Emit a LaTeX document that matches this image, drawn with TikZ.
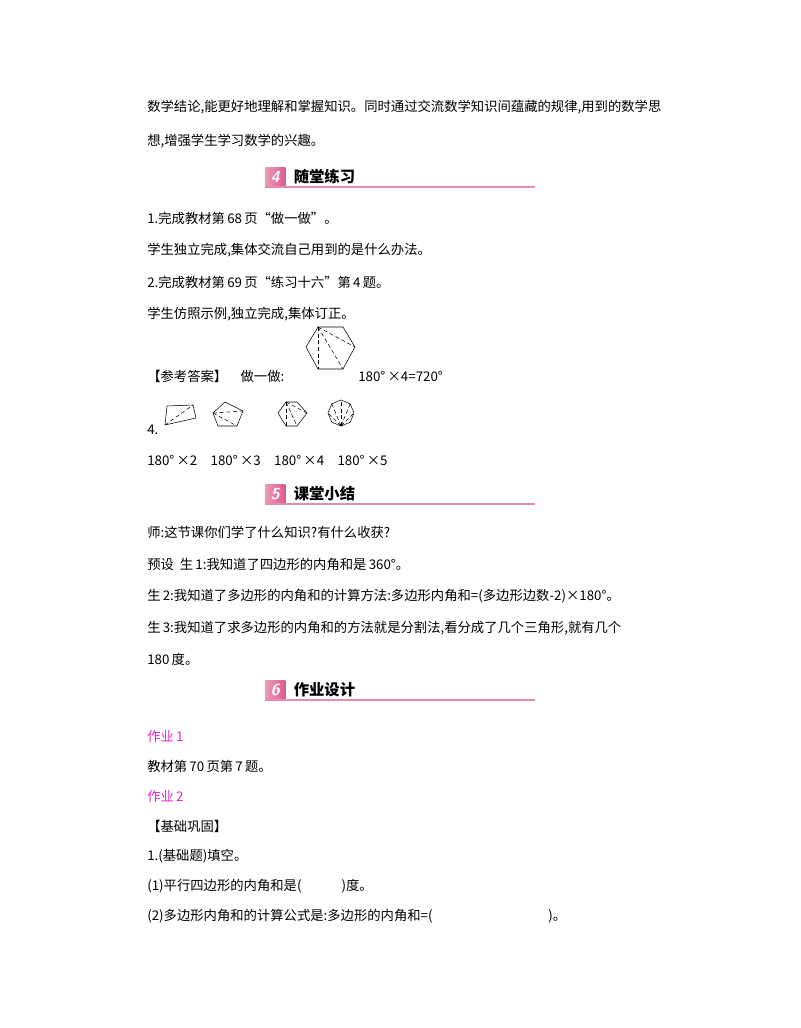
\documentclass[tikz,border=0pt]{standalone}
\usepackage{fontspec}
\usetikzlibrary{positioning,calc}
\newfontfamily\cjk{Noto Sans CJK SC}
\definecolor{secpink}{RGB}{222,90,140}
\definecolor{hwmag}{RGB}{230,40,200}
\tikzset{
  txt/.style={anchor=west, inner sep=0pt, font=\cjk\fontsize{10}{12}\selectfont},
  hw/.style={txt, text=hwmag},
  numbox/.style={minimum width=15pt, minimum height=15pt, inner sep=0pt, anchor=west,
    left color=secpink!60, right color=secpink, font=\sffamily\bfseries\itshape\large, text=white},
  headtxt/.style={anchor=west, inner sep=0pt, font=\cjk\bfseries\fontsize{11.5}{13}\selectfont},
  diag/.style={densely dashed, thin},
  poly/.style={thin}
}
\newcommand{\sectionhead}[3]{%
  \node[numbox] (n#1) at (265,#2) {#1};
  \node[headtxt, right=6pt of n#1] (h#1) {#3};
  \draw[secpink!70, line width=0.8pt] (265,#2+10) -- (535,#2+10);
}
\begin{document}
\begin{tikzpicture}[x=0.75pt, y=-0.75pt]
\useasboundingbox (0,0) rectangle (800,1028);

\node[txt] (l1) at (147,107) {数学结论,能更好地理解和掌握知识。同时通过交流数学知识间蕴藏的规律,用到的数学思};
\node[txt] (l2) at (147,141) {想,增强学生学习数学的兴趣。};

% section 4
\sectionhead{4}{177}{随堂练习}
\node[txt] (p1) at (147,218) {1.完成教材第\,68\,页“做一做”。};
\node[txt] (p2) at (147,250) {学生独立完成,集体交流自己用到的是什么办法。};
\node[txt] (p3) at (147,282) {2.完成教材第\,69\,页“练习十六”第\,4\,题。};
\node[txt] (p4) at (147,314) {学生仿照示例,独立完成,集体订正。};
\node[txt] (ans) at (147,376) {【参考答案】\quad 做一做:};
\node[txt] (ans2) at (358,376) {180°\,×4=720°};

% big hexagon
\draw[poly] (318,327) -- (343,327) -- (355,347) -- (343,369) -- (318,369) -- (306,347) -- cycle;
\foreach \p in {(355,347),(343,369),(318,369)}
  \draw[diag] (318,327) -- \p;

\node[txt] (q4) at (147,430) {4.};
% small figures
\draw[poly] (167,406) -- (193,405) -- (196,418) -- (165,425) -- cycle;
\draw[diag] (165,425) -- (193,405);
\draw[poly] (213,413) -- (225,402) -- (243,411) -- (237,426) -- (218,426) -- cycle;
\foreach \p in {(243,411),(237,426)}
  \draw[diag] (213,413) -- \p;
\draw[poly] (286,402) -- (297,402) -- (307,413) -- (297,426) -- (286,426) -- (278,413) -- cycle;
\foreach \p in {(307,413),(297,426),(286,426)}
  \draw[diag] (286,402) -- \p;
\draw[poly] (341,413) +(90:13) \foreach \a in {135,180,...,405} { -- +(\a:13) } -- cycle;
\foreach \a in {180,225,270,315,360}
  \draw[diag] ($(341,413)+(90:13)$) -- ($(341,413)+(\a:13)$);
\node[txt] (r4) at (147,460) {180°\,×2\quad 180°\,×3\quad 180°\,×4\quad 180°\,×5};

% section 5
\sectionhead{5}{494}{课堂小结}
\node[txt] (s1) at (147,532) {师:这节课你们学了什么知识?有什么收获?};
\node[txt] (s2) at (147,564) {预设\ \ 生\,1:我知道了四边形的内角和是\,360°。};
\node[txt] (s3) at (147,596) {生\,2:我知道了多边形的内角和的计算方法:多边形内角和=(多边形边数-2)×180°。};
\node[txt] (s4) at (147,628) {生\,3:我知道了求多边形的内角和的方法就是分割法,看分成了几个三角形,就有几个};
\node[txt] (s5) at (147,659) {180\,度。};

% section 6
\sectionhead{6}{690}{作业设计}
\node[hw] (w1) at (147,736) {作业\,1};
\node[txt] (w1t) at (147,766) {教材第\,70\,页第\,7\,题。};
\node[hw] (w2) at (147,796) {作业\,2};
\node[txt] (w2a) at (147,826) {【基础巩固】};
\node[txt] (w2b) at (147,856) {1.(基础题)填空。};
\node[txt] (w2c) at (147,886) {(1)平行四边形的内角和是(\hspace{3em})度。};
\node[txt] (w2d) at (147,916) {(2)多边形内角和的计算公式是:多边形的内角和=(};
\node[txt] (w2e) at (548,916) {)。};
\end{tikzpicture}
\end{document}
